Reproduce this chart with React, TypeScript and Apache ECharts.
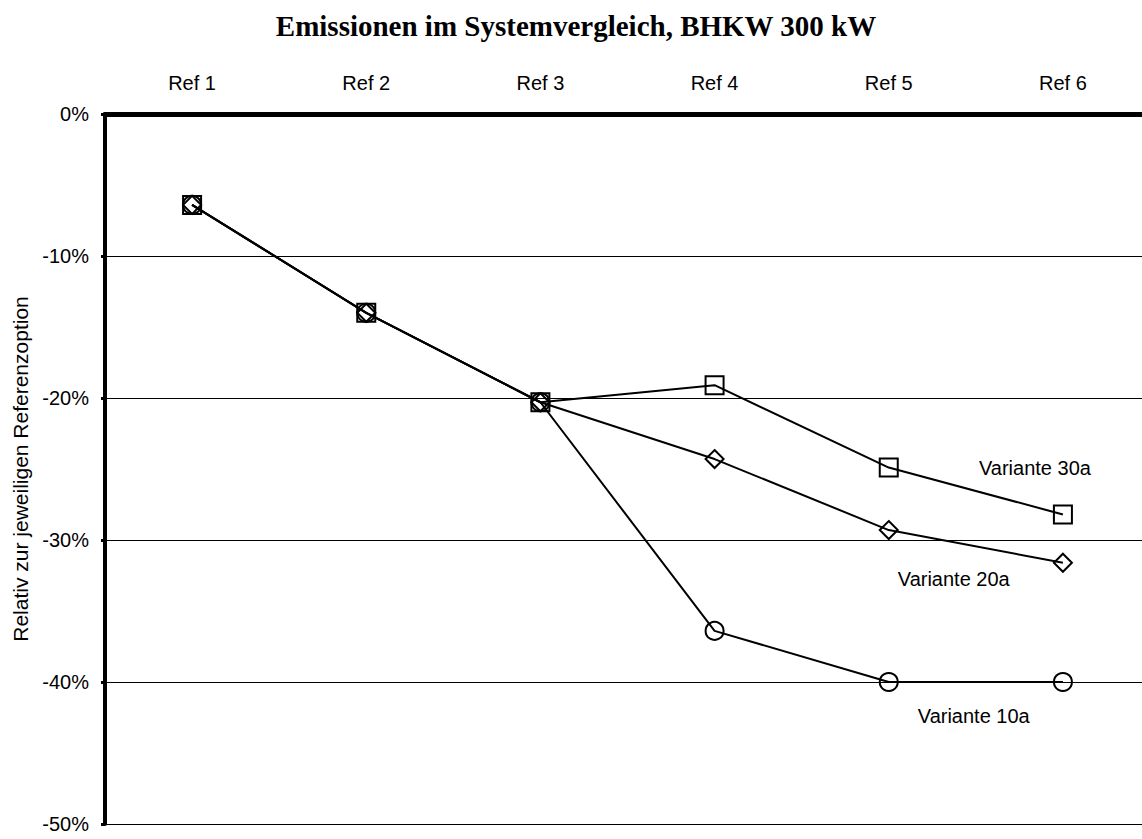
import React, { useEffect, useRef } from "react";
import * as echarts from "echarts";

const categories = ["Ref 1", "Ref 2", "Ref 3", "Ref 4", "Ref 5", "Ref 6"];
const variante10a = [-6.4, -14.0, -20.3, -36.4, -40.0, -40.0];
const variante20a = [-6.4, -14.0, -20.3, -24.3, -29.3, -31.6];
const variante30a = [-6.4, -14.0, -20.3, -19.1, -24.9, -28.2];
const yTicks = { min: -50, max: 0, interval: 10 };

const FONT = "'Liberation Sans', Arial, sans-serif";

function withLabel(values: number[], idx: number, text: string, offset: number[]) {
  return values.map((v, i) =>
    i === idx
      ? {
          value: v,
          label: {
            show: true,
            formatter: text,
            position: "inside",
            offset,
            color: "#000",
            fontFamily: FONT,
            fontSize: 20,
          },
        }
      : v
  );
}

export default function App() {
  const ref = useRef<HTMLDivElement>(null);
  useEffect(() => {
    if (!ref.current) return;
    const chart = echarts.init(ref.current, undefined, { renderer: "svg" });
    const common = {
      type: "line",
      lineStyle: { color: "#000", width: 2 },
      itemStyle: { color: "rgba(255,255,255,0)", borderColor: "#000", borderWidth: 2 },
      symbolSize: 18,
      label: { show: false },
      emphasis: { disabled: true },
    };
    chart.setOption({
      animation: false,
      backgroundColor: "#fff",
      title: {
        text: "Emissionen im Systemvergleich, BHKW 300 kW",
        left: 571,
        textAlign: "center",
        top: 6,
        textStyle: {
          fontFamily: "'Liberation Serif', 'Times New Roman', serif",
          fontWeight: "bold",
          fontSize: 29,
          color: "#000",
        },
      },
      grid: { left: 105, right: 0, top: 114, bottom: 15, containLabel: false },
      xAxis: {
        type: "category",
        position: "top",
        data: categories,
        boundaryGap: true,
        axisLine: { show: true, lineStyle: { color: "#000", width: 5 } },
        axisTick: { show: false },
        axisLabel: { color: "#000", fontFamily: FONT, fontSize: 20, margin: 21 },
        splitLine: { show: false },
      },
      yAxis: {
        type: "value",
        min: yTicks.min,
        max: yTicks.max,
        interval: yTicks.interval,
        name: "Relativ zur jeweiligen Referenzoption",
        nameLocation: "middle",
        nameGap: 72,
        nameTextStyle: { color: "#000", fontFamily: FONT, fontSize: 21 },
        axisLine: { show: true, onZero: false, lineStyle: { color: "#000", width: 4 } },
        axisTick: { show: true, inside: false, length: 4, lineStyle: { color: "#000", width: 3 } },
        axisLabel: {
          color: "#000",
          fontFamily: FONT,
          fontSize: 20,
          margin: 16,
          formatter: (v: number) => `${v}%`,
        },
        splitLine: { show: true, lineStyle: { color: "#000", width: 1 } },
      },
      series: [
        {
          ...common,
          name: "Variante 10a",
          symbol: "circle",
          data: withLabel(variante10a, 4, "Variante 10a", [85, 34]),
        },
        {
          ...common,
          name: "Variante 20a",
          symbol: "diamond",
          data: withLabel(variante20a, 4, "Variante 20a", [65, 49]),
        },
        {
          ...common,
          name: "Variante 30a",
          symbol: "rect",
          data: withLabel(variante30a, 5, "Variante 30a", [-28, -46]),
        },
      ],
    });
    return () => chart.dispose();
  }, []);
  return (
    <div
      style={{
        position: "absolute",
        left: 0,
        top: 0,
        width: 1142,
        height: 839,
        overflow: "hidden",
      }}
    >
      <div ref={ref} style={{ width: 1150, height: 839 }} />
    </div>
  );
}
